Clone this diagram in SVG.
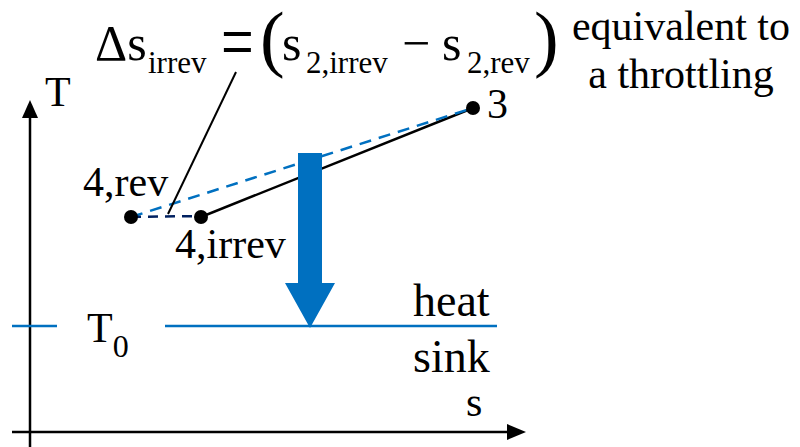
<svg xmlns="http://www.w3.org/2000/svg" width="800" height="447" viewBox="0 0 800 447" font-family="'Liberation Serif', 'DejaVu Serif', serif">
<style>
text{font-family:'Liberation Serif','DejaVu Serif',serif;fill:#000}
.lbl{font-size:42px}
.f{font-size:50px}
.sub{font-size:31px}
.par{font-size:74px}
.ax{stroke:#000;stroke-width:2.5;fill:none}
.blue{stroke:#0070C0;stroke-width:2.5;fill:none}
</style>
<g id="axes">
<line class="ax" x1="30" y1="447" x2="30" y2="104"/>
<path d="M22,118 L30,100 L38,118 Z" fill="#000"/>
<line class="ax" x1="12" y1="432" x2="510" y2="432"/>
<path d="M507,424 L526,432 L507,440 Z" fill="#000"/>
<text class="lbl" x="45" y="106">T</text>
<text class="lbl" x="466" y="416">s</text>
</g>
<g id="T0-line">
<line class="blue" x1="12" y1="326" x2="57" y2="326"/>
<line class="blue" x1="165" y1="326" x2="497" y2="326"/>
<text class="lbl" x="87" y="342">T<tspan style="font-size:32px" dy="15">0</tspan></text>
</g>
<g id="connectors">
<line x1="201" y1="217" x2="473" y2="108" stroke="#000" stroke-width="2.5"/>
<line x1="131" y1="217" x2="473" y2="108" stroke="#0070C0" stroke-width="2.5" stroke-dasharray="12,8"/>
<line x1="131" y1="217" x2="201" y2="216" stroke="#002060" stroke-width="2.5" stroke-dasharray="10,7"/>
<line x1="168" y1="214" x2="236" y2="72" stroke="#000" stroke-width="2"/>
</g>
<g id="heat-arrow">
<path d="M298,153 L322,153 L322,283 L335,283 L310,328 L285,283 L298,283 Z" fill="#0070C0"/>
</g>
<g id="state-4rev">
<circle cx="131" cy="217" r="7" fill="#000"/>
<text class="lbl" x="83" y="196">4,rev</text>
</g>
<g id="state-4irrev">
<circle cx="201" cy="217" r="7" fill="#000"/>
<text class="lbl" x="175" y="258">4,irrev</text>
</g>
<g id="state-3">
<circle cx="473" cy="108" r="7" fill="#000"/>
<text class="lbl" x="487" y="118">3</text>
</g>
<g id="heat-sink">
<text x="413" y="316" style="font-size:46px">heat</text>
<text x="413" y="372" style="font-size:46px">sink</text>
</g>
<g id="formula">
<text class="f" x="95" y="60">Δs</text>
<text class="sub" x="148" y="73">irrev</text>
<g transform="scale(1,1.4)"><text x="221" y="49.5" style="font-size:58px">=</text></g>
<text class="par" x="260" y="63">(</text>
<text class="f" x="282" y="60">s</text>
<text class="sub" x="306" y="73">2,irrev</text>
<text class="f" x="402" y="60">−</text>
<text class="f" x="442" y="60">s</text>
<text class="sub" x="467" y="73">2,rev</text>
<text class="par" x="534" y="63">)</text>
</g>
<g id="note">
<text class="lbl" x="681" y="40" text-anchor="middle">equivalent to</text>
<text class="lbl" x="681" y="88" text-anchor="middle">a throttling</text>
</g>
</svg>
